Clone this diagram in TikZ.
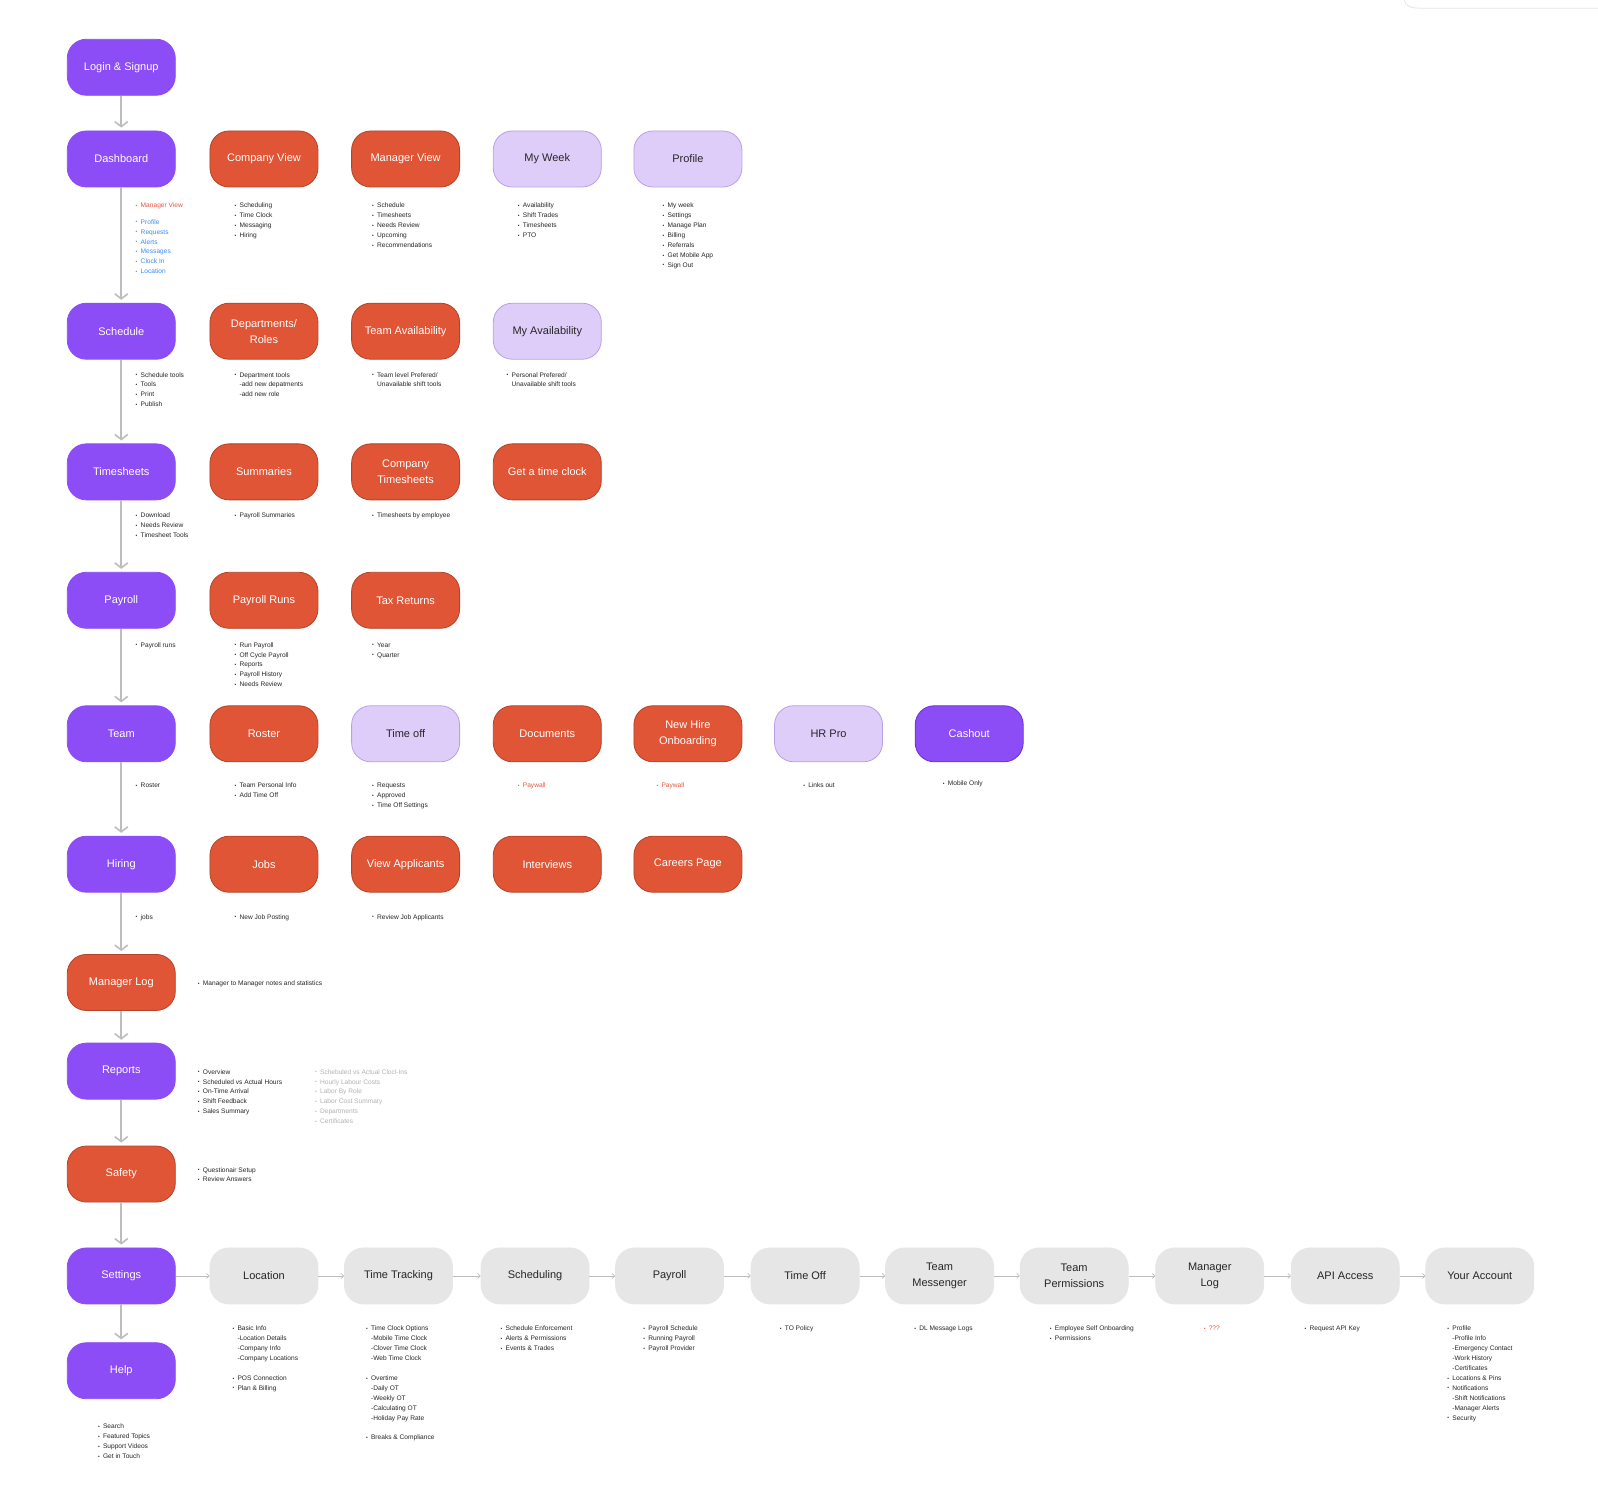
\documentclass[tikz,border=0pt]{standalone}
\usepackage{fontspec}
\setmainfont{Liberation Sans}
\usepackage{graphicx}
\usepackage{xcolor}
\usetikzlibrary{arrows.meta,positioning}

\definecolor{flowPurple}{HTML}{8C4CF6}
\definecolor{flowPurpleDark}{HTML}{6A2FD6}
\definecolor{flowOrange}{HTML}{DF5535}
\definecolor{flowOrangeDark}{HTML}{B3442A}
\definecolor{flowLilac}{HTML}{DECDF9}
\definecolor{flowLilacDark}{HTML}{B9A0E6}
\definecolor{flowGray}{HTML}{E6E6E6}
\definecolor{arrowGray}{HTML}{BDBDBD}
\definecolor{noteRed}{HTML}{E8553A}
\definecolor{noteBlue}{HTML}{3B8CF0}
\definecolor{noteDim}{HTML}{B2B2B2}

\newcommand{\itm}[1]{\strut\makebox[5pt][l]{\raisebox{0.4pt}{\scalebox{0.75}{\textbullet}}}#1}
\newcommand{\subitm}[1]{\strut\hspace*{5pt}#1}

\begin{document}
\begin{tikzpicture}[
  x=1.0191pt, y=-1.0191pt,
  box/.style={rounded corners=19pt, minimum width=108pt, minimum height=56pt,
    align=center, inner sep=2pt, line width=0.8pt, font=\fontsize{11}{16}\selectfont},
  main/.style={box, fill=flowPurple, draw=flowPurple, text=white},
  feat/.style={box, fill=flowOrange, draw=flowOrangeDark, text=white},
  soft/.style={box, fill=flowLilac, draw=flowLilacDark, text=black!85},
  conf/.style={box, fill=flowGray, draw=flowGray, text=black!85},
  notes/.style={anchor=north west, inner sep=0pt, align=left, text=black!85,
    font=\fontsize{6.6}{9.9}\selectfont},
  downarrow/.style={draw=arrowGray, line width=1.6pt, shorten >=3pt,
    -{Straight Barb[length=5pt,width=13pt]}},
  sidearrow/.style={draw=arrowGray, line width=0.7pt,
    -{Straight Barb[length=2.5pt,width=5pt]}}
]
\useasboundingbox (0,0) rectangle (1568,1482);
\fill[white] (0,0) rectangle (1568,1482);
\draw[black!10, line width=0.8pt] (1378,0) to[out=-90,in=180] (1392,8) -- (1568,8);

% ==================
% Main column
% ==================
\node[main] (login) at (119,66) {Login \& Signup};
\node[main] (dash) at (119,156) {Dashboard};
\node[main] (sched) at (119,325) {Schedule};
\node[main] (times) at (119,463) {Timesheets};
\node[main] (pay) at (119,589) {Payroll};
\node[main] (team) at (119,720) {Team};
\node[main] (hire) at (119,848) {Hiring};
\node[feat] (mlog) at (119,964) {Manager Log};
\node[main] (reports) at (119,1051) {Reports};
\node[feat] (safety) at (119,1152) {Safety};
\node[main] (settings) at (119,1252) {Settings};
\node[main] (help) at (119,1345) {Help};

\draw[downarrow] (login) -- (dash);
\draw[downarrow] (dash) -- (sched);
\draw[downarrow] (sched) -- (times);
\draw[downarrow] (times) -- (pay);
\draw[downarrow] (pay) -- (team);
\draw[downarrow] (team) -- (hire);
\draw[downarrow] (hire) -- (mlog);
\draw[downarrow] (mlog) -- (reports);
\draw[downarrow] (reports) -- (safety);
\draw[downarrow] (safety) -- (settings);
\draw[downarrow] (settings) -- (help);

% ==================
% Dashboard row
% ==================
\node[feat] (compview) at (259,156) {Company View};
\node[feat] (mgrview) at (398,156) {Manager View};
\node[soft] (myweek) at (537,156) {My Week};
\node[soft] (profile) at (675,156) {Profile};

\node[notes, text=noteBlue] (dashN) at (133,197) {\textcolor{noteRed}{\itm{Manager View}}\\[6.4pt]
  \itm{Profile}\\ \itm{Requests}\\ \itm{Alerts}\\ \itm{Messages}\\ \itm{Clock In}\\ \itm{Location}};
\node[notes] (compviewN) at (230,197) {\itm{Scheduling}\\ \itm{Time Clock}\\ \itm{Messaging}\\ \itm{Hiring}};
\node[notes] (mgrviewN) at (365,197) {\itm{Schedule}\\ \itm{Timesheets}\\ \itm{Needs Review}\\ \itm{Upcoming}\\ \itm{Recommendations}};
\node[notes] (myweekN) at (508,197) {\itm{Availability}\\ \itm{Shift Trades}\\ \itm{Timesheets}\\ \itm{PTO}};
\node[notes] (profileN) at (650,197) {\itm{My week}\\ \itm{Settings}\\ \itm{Manage Plan}\\ \itm{Billing}\\ \itm{Referrals}\\ \itm{Get Mobile App}\\ \itm{Sign Out}};

% ==================
% Schedule row
% ==================
\node[feat] (depts) at (259,325) {Departments/\\Roles};
\node[feat] (teamavail) at (398,325) {Team Availability};
\node[soft] (myavail) at (537,325) {My Availability};

\node[notes] (schedN) at (133,363) {\itm{Schedule tools}\\ \itm{Tools}\\ \itm{Print}\\ \itm{Publish}};
\node[notes] (deptsN) at (230,363) {\itm{Department tools}\\ \subitm{-add new depatments}\\ \subitm{-add new role}};
\node[notes] (teamavailN) at (365,363) {\itm{Team level Prefered/}\\ \subitm{Unavailable shift tools}};
\node[notes] (myavailN) at (497,363) {\itm{Personal Prefered/}\\ \subitm{Unavailable shift tools}};

% ==================
% Timesheets row
% ==================
\node[feat] (summ) at (259,463) {Summaries};
\node[feat] (comptimes) at (398,463) {Company\\Timesheets};
\node[feat] (timeclock) at (537,463) {Get a time clock};

\node[notes] (timesN) at (133,501) {\itm{Download}\\ \itm{Needs Review}\\ \itm{Timesheet Tools}};
\node[notes] (summN) at (230,501) {\itm{Payroll Summaries}};
\node[notes] (comptimesN) at (365,501) {\itm{Timesheets by employee}};

% ==================
% Payroll row
% ==================
\node[feat] (payruns) at (259,589) {Payroll Runs};
\node[feat] (taxret) at (398,589) {Tax Returns};

\node[notes] (payN) at (133,628) {\itm{Payroll runs}};
\node[notes] (payrunsN) at (230,628) {\itm{Run Payroll}\\ \itm{Off Cycle Payroll}\\ \itm{Reports}\\ \itm{Payroll History}\\ \itm{Needs Review}};
\node[notes] (taxretN) at (365,628) {\itm{Year}\\ \itm{Quarter}};

% ==================
% Team row
% ==================
\node[feat] (roster) at (259,720) {Roster};
\node[soft] (timeoff) at (398,720) {Time off};
\node[feat] (docs) at (537,720) {Documents};
\node[feat] (newhire) at (675,720) {New Hire\\Onboarding};
\node[soft] (hrpro) at (813,720) {HR Pro};
\node[main, draw=flowPurpleDark] (cashout) at (951,720) {Cashout};

\node[notes] (teamN) at (133,766) {\itm{Roster}};
\node[notes] (rosterN) at (230,766) {\itm{Team Personal Info}\\ \itm{Add Time Off}};
\node[notes] (timeoffN) at (365,766) {\itm{Requests}\\ \itm{Approved}\\ \itm{Time Off Settings}};
\node[notes, text=noteRed] (docsN) at (508,766) {\itm{Paywall}};
\node[notes, text=noteRed] (newhireN) at (644,766) {\itm{Paywall}};
\node[notes] (hrproN) at (788,766) {\itm{Links out}};
\node[notes] (cashoutN) at (925,764) {\itm{Mobile Only}};

% ==================
% Hiring row
% ==================
\node[feat] (jobs) at (259,848) {Jobs};
\node[feat] (viewapp) at (398,848) {View Applicants};
\node[feat] (interviews) at (537,848) {Interviews};
\node[feat] (careers) at (675,848) {Careers Page};

\node[notes] (hireN) at (133,895) {\itm{jobs}};
\node[notes] (jobsN) at (230,895) {\itm{New Job Posting}};
\node[notes] (viewappN) at (365,895) {\itm{Review Job Applicants}};

% ==================
% Manager log, reports, safety
% ==================
\node[notes] (mlogN) at (194,960) {\itm{Manager to Manager notes and statistics}};
\node[notes] (reportsN) at (194,1047) {\itm{Overview}\\ \itm{Scheduled vs Actual Hours}\\ \itm{On-Time Arrival}\\ \itm{Shift Feedback}\\ \itm{Sales Summary}};
\node[notes, text=noteDim] (reportsX) at (309,1047) {\itm{Schebuled vs Actual Clocl-Ins}\\ \itm{Hourly Labour Costs}\\ \itm{Labor By Role}\\ \itm{Labor Cost Summary}\\ \itm{Departments}\\ \itm{Certificates}};
\node[notes] (safetyN) at (194,1143) {\itm{Questionair Setup}\\ \itm{Review Answers}};

% ==================
% Settings row
% ==================
\node[conf] (sloc) at (259,1252) {Location};
\node[conf] (strack) at (391,1252) {Time Tracking};
\node[conf] (ssched) at (525,1252) {Scheduling};
\node[conf] (spay) at (657,1252) {Payroll};
\node[conf] (soff) at (790,1252) {Time Off};
\node[conf] (smsg) at (922,1252) {Team\\Messenger};
\node[conf] (sperm) at (1054,1252) {Team\\Permissions};
\node[conf] (smlog) at (1187,1252) {Manager\\Log};
\node[conf] (sapi) at (1320,1252) {API Access};
\node[conf] (sacct) at (1452,1252) {Your Account};

\draw[sidearrow] (settings) -- (sloc);
\draw[sidearrow] (sloc) -- (strack);
\draw[sidearrow] (strack) -- (ssched);
\draw[sidearrow] (ssched) -- (spay);
\draw[sidearrow] (spay) -- (soff);
\draw[sidearrow] (soff) -- (smsg);
\draw[sidearrow] (smsg) -- (sperm);
\draw[sidearrow] (sperm) -- (smlog);
\draw[sidearrow] (smlog) -- (sapi);
\draw[sidearrow] (sapi) -- (sacct);

\node[notes] (slocN) at (228,1299) {\itm{Basic Info}\\ \subitm{-Location Details}\\ \subitm{-Company Info}\\ \subitm{-Company Locations}\\[9.9pt]
  \itm{POS Connection}\\ \itm{Plan \& Billing}};
\node[notes] (strackN) at (359,1299) {\itm{Time Clock Options}\\ \subitm{-Mobile Time Clock}\\ \subitm{-Clover Time Clock}\\ \subitm{-Web Time Clock}\\[9.9pt]
  \itm{Overtime}\\ \subitm{-Daily OT}\\ \subitm{-Weekly OT}\\ \subitm{-Calculating OT}\\ \subitm{-Holiday Pay Rate}\\[9.9pt]
  \itm{Breaks \& Compliance}};
\node[notes] (sschedN) at (491,1299) {\itm{Schedule Enforcement}\\ \itm{Alerts \& Permissions}\\ \itm{Events \& Trades}};
\node[notes] (spayN) at (631,1299) {\itm{Payroll Schedule}\\ \itm{Running Payroll}\\ \itm{Payroll Provider}};
\node[notes] (soffN) at (765,1299) {\itm{TO Policy}};
\node[notes] (smsgN) at (897,1299) {\itm{DL Message Logs}};
\node[notes] (spermN) at (1030,1299) {\itm{Employee Self Onboarding}\\ \itm{Permissions}};
\node[notes, text=noteRed] (smlogN) at (1181,1299) {\itm{???}};
\node[notes] (sapiN) at (1280,1299) {\itm{Request API Key}};
\node[notes] (sacctN) at (1420,1299) {\itm{Profile}\\ \subitm{-Profile Info}\\ \subitm{-Emergency Contact}\\ \subitm{-Work History}\\ \subitm{-Certificates}\\
  \itm{Locations \& Pins}\\ \itm{Notifications}\\ \subitm{-Shift Notifications}\\ \subitm{-Manager Alerts}\\ \itm{Security}};

% ==================
% Help
% ==================
\node[notes] (helpN) at (96,1395) {\itm{Search}\\ \itm{Featured Topics}\\ \itm{Support Videos}\\ \itm{Get in Touch}};
\end{tikzpicture}
\end{document}
